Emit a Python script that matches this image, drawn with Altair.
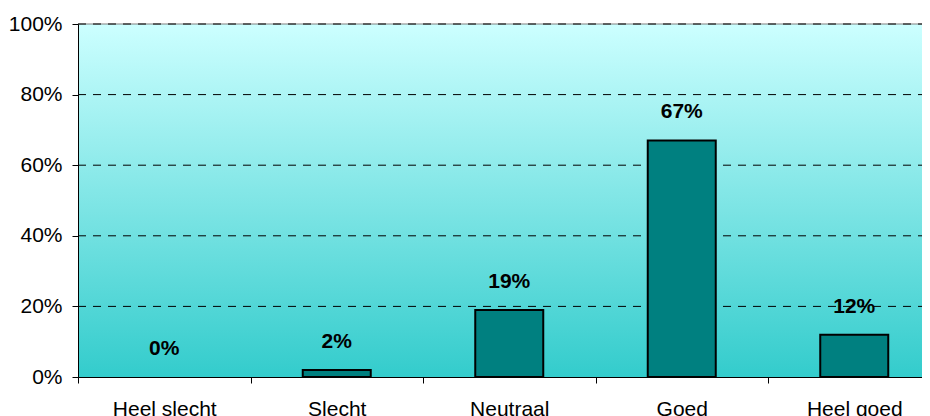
import altair as alt
import pandas as pd

categories = ["Heel slecht", "Slecht", "Neutraal", "Goed", "Heel goed"]
values = [0.00, 0.02, 0.19, 0.67, 0.12]
y_ticks = [0, 0.2, 0.4, 0.6, 0.8, 1.0]

df = pd.DataFrame({"cat": categories, "val": values})
grid_df = pd.DataFrame({"val": y_ticks[1:]})
one_df = pd.DataFrame({"k": [0]})

FONT = "Liberation Sans"
STEP = 172.5
PLOT_W = STEP * len(categories)
PLOT_H = 353

x_enc = alt.X(
    "cat:N",
    sort=categories,
    scale=alt.Scale(paddingInner=0, paddingOuter=0),
    axis=alt.Axis(
        title=None,
        labelAngle=0,
        tickBand="extent",
        tickSize=6,
        labelPadding=15,
        labelFontSize=21,
        labelFont=FONT,
        labelColor="black",
        tickColor="black",
        domainColor="black",
        grid=False,
        zindex=2,
    ),
)

y_enc = alt.Y(
    "val:Q",
    scale=alt.Scale(domain=[0, 1], nice=False),
    axis=alt.Axis(
        title=None,
        values=y_ticks,
        format=".0%",
        tickSize=6,
        labelPadding=10,
        labelFontSize=21,
        labelFont=FONT,
        labelColor="black",
        tickColor="black",
        domainColor="black",
        grid=False,
        zindex=2,
    ),
)

gradient = alt.LinearGradient(
    gradient="linear",
    stops=[
        alt.GradientStop(color="#CCFFFF", offset=0),
        alt.GradientStop(color="#33CCCC", offset=1),
    ],
    x1=0, x2=0, y1=0, y2=1,
)

bg = alt.Chart(one_df).mark_rect(fill=gradient).encode(
    x=alt.value(0), x2=alt.value(PLOT_W), y=alt.value(0), y2=alt.value(PLOT_H)
)

top_border = alt.Chart(one_df).mark_rule(color="#808080", strokeWidth=1).encode(
    x=alt.value(0), x2=alt.value(PLOT_W), y=alt.value(0)
)

grid = alt.Chart(grid_df).mark_rule(color="black", strokeWidth=1, strokeDash=[8, 7]).encode(
    y=alt.Y("val:Q"), x=alt.value(0), x2=alt.value(PLOT_W)
)

bars = alt.Chart(df).mark_bar(
    size=68, fill="#008080", strokeWidth=2
).encode(
    x=x_enc,
    y=y_enc,
    stroke=alt.condition(alt.datum.val > 0, alt.value("black"), alt.value("transparent")),
)

labels = alt.Chart(df).mark_text(
    baseline="bottom", dy=-18, fontSize=21, fontWeight="bold", font=FONT, color="black"
).encode(x=alt.X("cat:N", sort=categories), y="val:Q", text=alt.Text("val:Q", format=".0%"))

chart = (
    alt.layer(bg, top_border, grid, bars, labels)
    .properties(
        width=alt.Step(STEP),
        height=PLOT_H,
        padding={"left": 70, "top": 16, "right": -18.5, "bottom": 39},
        autosize=alt.AutoSizeParams(type="none"),
        background="white",
    )
    .configure_view(stroke=None)
)

chart.save("out.html", embed_options={"renderer": "svg", "actions": False})
